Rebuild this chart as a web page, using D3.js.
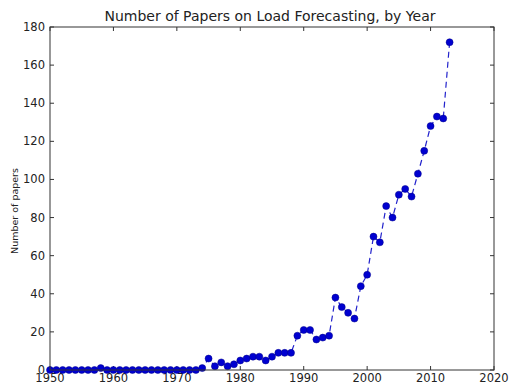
<!DOCTYPE html>
<html>
<head>
<meta charset="utf-8">
<script src="https://cdn.jsdelivr.net/npm/d3@7"></script>
<style>
  html, body { margin: 0; padding: 0; background: #fff; }
  svg { display: block; }
  text { font-family: "DejaVu Sans", sans-serif; fill: #222; }
</style>
</head>
<body>
<svg id="chart" width="509" height="383"></svg>
<script>
// Papers per year
const years = d3.range(1950, 2014);
const papers = [
  0, 0, 0, 0, 0, 0, 0, 0, 1, 0,          // 1950-1959
  0, 0, 0, 0, 0, 0, 0, 0, 0, 0,          // 1960-1969
  0, 0, 0, 0, 1, 6, 2, 4, 2, 3,          // 1970-1979
  5, 6, 7, 7, 5, 7, 9, 9, 9, 18,         // 1980-1989
  21, 21, 16, 17, 18, 38, 33, 30, 27, 44, // 1990-1999
  50, 70, 67, 86, 80, 92, 95, 91, 103, 115, // 2000-2009
  128, 133, 132, 172                      // 2010-2013
];
const xTicks = [1950, 1960, 1970, 1980, 1990, 2000, 2010, 2020];
const yTicks = [0, 20, 40, 60, 80, 100, 120, 140, 160, 180];

const titleText = "Number of Papers on Load Forecasting, by Year";
const yLabelText = "Number of papers";

const svg = d3.select("#chart");
const m = { left: 50, right: 494, top: 27, bottom: 370 };

const x = d3.scaleLinear().domain([1950, 2020]).range([m.left, m.right]);
const y = d3.scaleLinear().domain([0, 180]).range([m.bottom, m.top]);

const data = years.map((yr, i) => ({ year: yr, value: papers[i] }));

// Ticks pointing inward on all four sides
const tickLen = 4;
const g = svg.append("g");
xTicks.forEach(t => {
  g.append("line").attr("x1", x(t)).attr("x2", x(t))
    .attr("y1", m.bottom).attr("y2", m.bottom - tickLen)
    .attr("stroke", "#333").attr("stroke-width", 1);
  g.append("line").attr("x1", x(t)).attr("x2", x(t))
    .attr("y1", m.top).attr("y2", m.top + tickLen)
    .attr("stroke", "#333").attr("stroke-width", 1);
  g.append("text").attr("x", x(t)).attr("y", m.bottom + 12)
    .attr("text-anchor", "middle").attr("font-size", 11.5).text(t);
});
yTicks.forEach(t => {
  g.append("line").attr("x1", m.left).attr("x2", m.left + tickLen)
    .attr("y1", y(t)).attr("y2", y(t))
    .attr("stroke", "#333").attr("stroke-width", 1);
  g.append("line").attr("x1", m.right).attr("x2", m.right - tickLen)
    .attr("y1", y(t)).attr("y2", y(t))
    .attr("stroke", "#333").attr("stroke-width", 1);
  g.append("text").attr("x", m.left - 5).attr("y", y(t) + 4)
    .attr("text-anchor", "end").attr("font-size", 11.5).text(t);
});

// Dashed line with filled circle markers
const line = d3.line().x(d => x(d.year)).y(d => y(d.value));
svg.append("path").datum(data)
  .attr("d", line)
  .attr("fill", "none")
  .attr("stroke", "#2222cc")
  .attr("stroke-width", 1.2)
  .attr("stroke-dasharray", "6,4");

svg.append("g").selectAll("circle").data(data).join("circle")
  .attr("cx", d => x(d.year))
  .attr("cy", d => y(d.value))
  .attr("r", 3.5)
  .attr("fill", "#0000d0")
  .attr("stroke", "#00008a")
  .attr("stroke-width", 0.5);

// Axes frame
svg.append("rect")
  .attr("x", m.left).attr("y", m.top)
  .attr("width", m.right - m.left).attr("height", m.bottom - m.top)
  .attr("fill", "none").attr("stroke", "#333").attr("stroke-width", 1);

// Title and y-axis label
svg.append("text").attr("x", (m.left + m.right) / 2 - 2).attr("y", 21)
  .attr("text-anchor", "middle").attr("font-size", 14).text(titleText);

svg.append("text")
  .attr("transform", `translate(18, 211) rotate(-90)`)
  .attr("text-anchor", "middle").attr("font-size", 9.5).text(yLabelText);
</script>
</body>
</html>
